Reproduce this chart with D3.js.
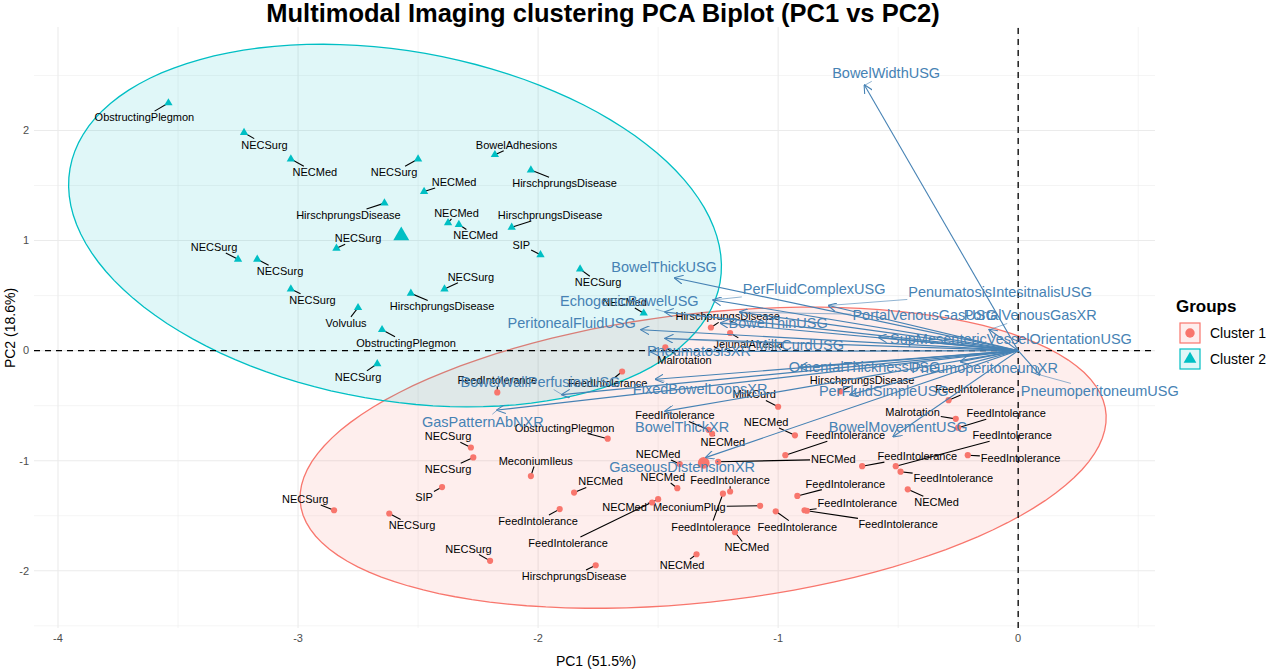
<!DOCTYPE html>
<html>
<head>
<meta charset="utf-8">
<script src="https://cdn.jsdelivr.net/npm/d3@7"></script>
<style>
  body { margin: 0; background: #fff; font-family: "Liberation Sans", Arial, sans-serif; }
</style>
</head>
<body>
<script>
// observations: [PC1, PC2, cluster, label, labelPC1, labelPC2]
const obs = [
  [-3.54, 2.25, 2, "ObstructingPlegmon", -3.64, 2.12],
  [-3.225, 1.98, 2, "NECSurg", -3.14, 1.87],
  [-3.03, 1.74, 2, "NECMed", -2.93, 1.62],
  [-2.5, 1.74, 2, "NECSurg", -2.60, 1.62],
  [-2.18, 1.78, 2, "BowelAdhesions", -2.09, 1.87],
  [-2.475, 1.445, 2, "NECMed", -2.35, 1.53],
  [-2.03, 1.64, 2, "HirschprungsDisease", -1.89, 1.52],
  [-2.64, 1.34, 2, "HirschprungsDisease", -2.79, 1.23],
  [-2.375, 1.16, 2, "NECMed", -2.34, 1.25],
  [-2.11, 1.12, 2, "HirschprungsDisease", -1.95, 1.23],
  [-2.33, 1.145, 2, "NECMed", -2.26, 1.045],
  [-2.84, 0.93, 2, "NECSurg", -2.75, 1.02],
  [-1.99, 0.87, 2, "SIP", -2.07, 0.96],
  [-3.25, 0.83, 2, "NECSurg", -3.35, 0.94],
  [-3.17, 0.83, 2, "NECSurg", -3.075, 0.72],
  [-1.825, 0.74, 2, "NECSurg", -1.75, 0.62],
  [-3.03, 0.56, 2, "NECSurg", -2.94, 0.46],
  [-2.39, 0.56, 2, "NECSurg", -2.28, 0.67],
  [-2.53, 0.52, 2, "HirschprungsDisease", -2.40, 0.40],
  [-2.75, 0.39, 2, "Volvulus", -2.80, 0.25],
  [-1.56, 0.34, 2, "NECMed", -1.64, 0.44],
  [-2.65, 0.19, 2, "ObstructingPlegmon", -2.55, 0.07],
  [-2.67, -0.12, 2, "NECSurg", -2.75, -0.24],
  [-1.28, 0.21, 1, "HirschprungsDisease", -1.21, 0.31],
  [-1.20, 0.16, 1, "JejunalAtresia", -1.125, 0.06],
  [-1.47, 0.03, 1, "Malrotation", -1.39, -0.09],
  [-1.65, -0.19, 1, "FeedIntolerance", -1.71, -0.30],
  [-2.17, -0.38, 1, "FeedIntolerance", -2.17, -0.27],
  [-1.00, -0.51, 1, "MilkCurd", -1.10, -0.40],
  [-1.29, -0.72, 1, "FeedIntolerance", -1.43, -0.59],
  [-1.275, -0.755, 1, "NECMed", -1.23, -0.83],
  [-1.71, -0.80, 1, "ObstructingPlegmon", -1.89, -0.70],
  [-2.28, -0.88, 1, "NECSurg", -2.375, -0.78],
  [-2.27, -0.97, 1, "NECSurg", -2.375, -1.08],
  [-2.40, -1.24, 1, "SIP", -2.475, -1.33],
  [-2.85, -1.45, 1, "NECSurg", -2.97, -1.35],
  [-2.62, -1.48, 1, "NECSurg", -2.525, -1.59],
  [-2.20, -1.91, 1, "NECSurg", -2.29, -1.80],
  [-2.03, -1.14, 1, "MeconiumIleus", -2.01, -1.00],
  [-1.85, -1.29, 1, "NECMed", -1.74, -1.19],
  [-1.91, -1.44, 1, "FeedIntolerance", -2.00, -1.55],
  [-1.50, -1.35, 1, "FeedIntolerance", -1.875, -1.75],
  [-1.525, -1.38, 1, "NECMed", -1.64, -1.42],
  [-1.42, -1.25, 1, "NECMed", -1.48, -1.15],
  [-1.41, -1.03, 1, "NECMed", -1.50, -0.94],
  [-1.25, -1.01, 1, "NECMed", -0.77, -0.99],
  [-1.20, -1.28, 1, "FeedIntolerance", -1.20, -1.18],
  [-1.23, -1.30, 1, "FeedIntolerance", -1.28, -1.60],
  [-1.075, -1.41, 1, "MeconiumPlug", -1.37, -1.42],
  [-1.01, -1.46, 1, "FeedIntolerance", -0.92, -1.60],
  [-1.18, -1.65, 1, "NECMed", -1.13, -1.79],
  [-1.34, -1.85, 1, "NECMed", -1.40, -1.95],
  [-1.76, -1.95, 1, "HirschprungsDisease", -1.85, -2.05],
  [-0.74, -0.37, 1, "HirschprungsDisease", -0.65, -0.27],
  [-0.29, -0.45, 1, "FeedIntolerance", -0.18, -0.35],
  [-0.26, -0.62, 1, "Malrotation", -0.44, -0.56],
  [-0.25, -0.70, 1, "FeedIntolerance", -0.05, -0.57],
  [-0.93, -0.77, 1, "NECMed", -1.05, -0.65],
  [-0.97, -0.95, 1, "FeedIntolerance", -0.72, -0.77],
  [-0.65, -1.05, 1, "FeedIntolerance", -0.42, -0.96],
  [-0.51, -1.05, 1, "FeedIntolerance", -0.025, -0.77],
  [-0.21, -0.95, 1, "FeedIntolerance", 0.01, -0.98],
  [-0.49, -1.10, 1, "FeedIntolerance", -0.27, -1.16],
  [-0.46, -1.26, 1, "NECMed", -0.34, -1.38],
  [-0.92, -1.32, 1, "FeedIntolerance", -0.72, -1.21],
  [-0.89, -1.45, 1, "FeedIntolerance", -0.67, -1.39],
  [-0.88, -1.455, 1, "FeedIntolerance", -0.50, -1.58]
];

// cluster centroids
const centroids = [[-1.31, -1.02, 1], [-2.57, 1.045, 2]];

// variable loadings: [name, PC1, PC2, labelPC1, labelPC2]
const loadings = [
  ["BowelWidthUSG", -0.64, 2.41, -0.55, 2.52],
  ["BowelThickUSG", -1.43, 0.66, -1.475, 0.76],
  ["PerFluidComplexUSG", -1.27, 0.46, -0.85, 0.56],
  ["PenumatosisIntesitnalisUSG", -0.79, 0.41, -0.075, 0.53],
  ["EchogenicBowelUSG", -1.47, 0.35, -1.62, 0.45],
  ["PortalVenousGasUSG", -1.16, 0.35, -0.39, 0.32],
  ["PortalVenousGasXR", -0.12, 0.19, 0.05, 0.32],
  ["PeritonealFluidUSG", -1.57, 0.19, -1.86, 0.25],
  ["BowelThinUSG", -1.24, 0.25, -1.0, 0.25],
  ["SupMesentericVesselOrientationUSG", -0.58, 0.12, -0.03, 0.11],
  ["MilkCurdUSG", -1.47, 0.11, -0.91, 0.05],
  ["PneumatosisXR", -1.53, -0.01, -1.33, 0.0],
  ["OmentalThicknessUSG", -0.91, -0.15, -0.64, -0.15],
  ["PneumoperitoneumXR", -0.24, -0.10, -0.14, -0.16],
  ["FixedBowelLoopsXR", -1.51, -0.26, -1.325, -0.35],
  ["PerFluidSimpleUSG", -0.70, -0.40, -0.56, -0.37],
  ["PneumoperitoneumUSG", 0.09, -0.22, 0.34, -0.37],
  ["BowelThickXR", -1.47, -0.55, -1.40, -0.69],
  ["BowelMovementUSG", -0.52, -0.78, -0.50, -0.69],
  ["GaseousDistensionXR", -1.30, -0.97, -1.40, -1.06],
  ["GasPatternAbNXR", -2.17, -0.54, -2.23, -0.65],
  ["BowelWallPerfusionUSG", -1.90, -0.40, -1.99, -0.28]
];

// confidence ellipses: [cluster, centerX, centerY, axisA(x,y), axisB(x,y)]
const ellipses = [
  [1, -1.3125, -0.973, 1.675, 0.455, 0.118, -1.29],
  [2, -2.596, 1.136, 1.354, -0.518, -0.126, -1.5636]
];

const xTicks = [-4, -3, -2, -1, 0];
const yTicks = [-2, -1, 0, 1, 2];
const groupNames = ["Cluster 1", "Cluster 2"];
const colors = { 1: "#F8766D", 2: "#00BFC4" };

const W = 1280, H = 671;
const svg = d3.select("body").append("svg").attr("width", W).attr("height", H);

const x = d3.scaleLinear().domain([-4.1, 0.57]).range([34, 1155]);
const y = d3.scaleLinear().domain([-2.52, 2.94]).range([628, 27]);

// grid
const grid = svg.append("g");
d3.range(-4, 0.6, 0.5).forEach(v => {
  grid.append("line").attr("x1", x(v)).attr("x2", x(v)).attr("y1", y.range()[0]).attr("y2", y.range()[1])
    .attr("stroke", "#ebebeb").attr("stroke-width", Number.isInteger(v) ? 1.1 : 0.55);
});
d3.range(-2.5, 3, 0.5).forEach(v => {
  grid.append("line").attr("y1", y(v)).attr("y2", y(v)).attr("x1", x.range()[0]).attr("x2", x.range()[1])
    .attr("stroke", "#ebebeb").attr("stroke-width", Number.isInteger(v) ? 1.1 : 0.55);
});

// ellipses
const line = d3.line().x(d => x(d[0])).y(d => y(d[1]));
ellipses.forEach(e => {
  const pts = d3.range(0, 361, 3).map(a => {
    const t = a * Math.PI / 180;
    return [e[1] + e[3] * Math.cos(t) + e[5] * Math.sin(t), e[2] + e[4] * Math.cos(t) + e[6] * Math.sin(t)];
  });
  svg.append("path").attr("d", line(pts) + "Z")
    .attr("fill", colors[e[0]]).attr("fill-opacity", 0.12)
    .attr("stroke", colors[e[0]]).attr("stroke-width", 1.3);
});

// zero lines
svg.append("line").attr("x1", x(0)).attr("x2", x(0)).attr("y1", y.range()[0]).attr("y2", y.range()[1])
  .attr("stroke", "#000").attr("stroke-width", 1.3).attr("stroke-dasharray", "6,5");
svg.append("line").attr("y1", y(0)).attr("y2", y(0)).attr("x1", x.range()[0]).attr("x2", x.range()[1])
  .attr("stroke", "#000").attr("stroke-width", 1.3).attr("stroke-dasharray", "6,5");

// arrow marker
svg.append("defs").append("marker").attr("id", "ah").attr("viewBox", "0 0 10 10")
  .attr("refX", 9).attr("refY", 5).attr("markerWidth", 9).attr("markerHeight", 9)
  .attr("markerUnits", "userSpaceOnUse").attr("orient", "auto")
  .append("path").attr("d", "M0,0 L10,5 L0,10").attr("fill", "none").attr("stroke", "steelblue").attr("stroke-width", 1.2);

// shape helper
const tri = d3.symbol().type(d3.symbolTriangle);
function mark(g, d, size) {
  if (d[2] === 1) {
    g.append("circle").attr("cx", x(d[0])).attr("cy", y(d[1])).attr("r", Math.sqrt(size / Math.PI)).attr("fill", colors[1]);
  } else {
    g.append("path").attr("d", tri.size(size)()).attr("transform", `translate(${x(d[0])},${y(d[1])})`).attr("fill", colors[2]);
  }
}

// observation labels + segments
const lg = svg.append("g");
function clipSeg(px, py, t) {
  const b = t.node().getBBox();
  const cx = b.x + b.width / 2, cy = b.y + b.height / 2;
  let dx = px - cx, dy = py - cy;
  const sx = dx !== 0 ? (b.width / 2 + 1) / Math.abs(dx) : Infinity;
  const sy = dy !== 0 ? (b.height / 2) / Math.abs(dy) : Infinity;
  const s = Math.min(sx, sy);
  if (s >= 1) return null;
  return [cx + dx * s, cy + dy * s];
}
obs.forEach(d => {
  const t = lg.append("text").attr("x", x(d[4])).attr("y", y(d[5])).attr("dy", "0.35em")
    .attr("text-anchor", "middle").attr("font-size", 11).attr("fill", "#000").text(d[3]);
  const e = clipSeg(x(d[0]), y(d[1]), t);
  if (e && Math.hypot(e[0] - x(d[0]), e[1] - y(d[1])) > 3) {
    lg.insert("line", ":first-child").attr("x1", x(d[0])).attr("y1", y(d[1])).attr("x2", e[0]).attr("y2", e[1])
      .attr("stroke", "#000").attr("stroke-width", 1.1);
  }
});

const pg = svg.append("g");
obs.forEach(d => mark(pg, d, 30));
centroids.forEach(d => mark(pg, d, 110));

// loadings
const ag = svg.append("g");
loadings.forEach(d => {
  ag.append("line").attr("x1", x(0)).attr("y1", y(0)).attr("x2", x(d[1])).attr("y2", y(d[2]))
    .attr("stroke", "steelblue").attr("stroke-width", 1.1).attr("marker-end", "url(#ah)");
});
loadings.forEach(d => {
  const t = ag.append("text").attr("x", x(d[3])).attr("y", y(d[4])).attr("dy", "0.35em")
    .attr("text-anchor", "middle").attr("font-size", 14.5).attr("fill", "steelblue").text(d[0]);
  const e = clipSeg(x(d[1]), y(d[2]), t);
  if (e && Math.hypot(e[0] - x(d[1]), e[1] - y(d[2])) > 6) {
    ag.insert("line", ":first-child").attr("x1", x(d[1])).attr("y1", y(d[2])).attr("x2", e[0]).attr("y2", e[1])
      .attr("stroke", "steelblue").attr("stroke-width", 0.6);
  }
});

// axes tick labels
xTicks.forEach(v => svg.append("text").attr("x", x(v)).attr("y", 642).attr("text-anchor", "middle")
  .attr("font-size", 11).attr("fill", "#4d4d4d").text(v));
yTicks.forEach(v => svg.append("text").attr("x", 29).attr("y", y(v)).attr("dy", "0.35em").attr("text-anchor", "end")
  .attr("font-size", 11).attr("fill", "#4d4d4d").text(v));

svg.append("text").attr("x", 596).attr("y", 666).attr("text-anchor", "middle").attr("font-size", 14).text("PC1 (51.5%)");
svg.append("text").attr("transform", "translate(15,328) rotate(-90)").attr("text-anchor", "middle")
  .attr("font-size", 14).text("PC2 (18.6%)");
svg.append("text").attr("x", 603).attr("y", 22).attr("text-anchor", "middle").attr("font-size", 25.5)
  .attr("font-weight", "bold").text("Multimodal Imaging clustering PCA Biplot (PC1 vs PC2)");

// legend
const leg = svg.append("g").attr("transform", "translate(1176,0)");
leg.append("text").attr("x", 0).attr("y", 312).attr("font-size", 17).attr("font-weight", "bold").text("Groups");
groupNames.forEach((name, i) => {
  const cy = 333 + i * 26;
  leg.append("rect").attr("x", 4).attr("y", cy - 10).attr("width", 20).attr("height", 20)
    .attr("fill", colors[i + 1]).attr("fill-opacity", 0.12).attr("stroke", colors[i + 1]).attr("stroke-width", 1.2);
  mark(leg, [0, 0, i + 1], 70);
  const last = leg.node().lastChild;
  if (i === 0) d3.select(last).attr("cx", 14).attr("cy", cy);
  else d3.select(last).attr("transform", `translate(14,${cy})`);
  leg.append("text").attr("x", 34).attr("y", cy).attr("dy", "0.35em").attr("font-size", 14).text(name);
});
</script>
</body>
</html>
